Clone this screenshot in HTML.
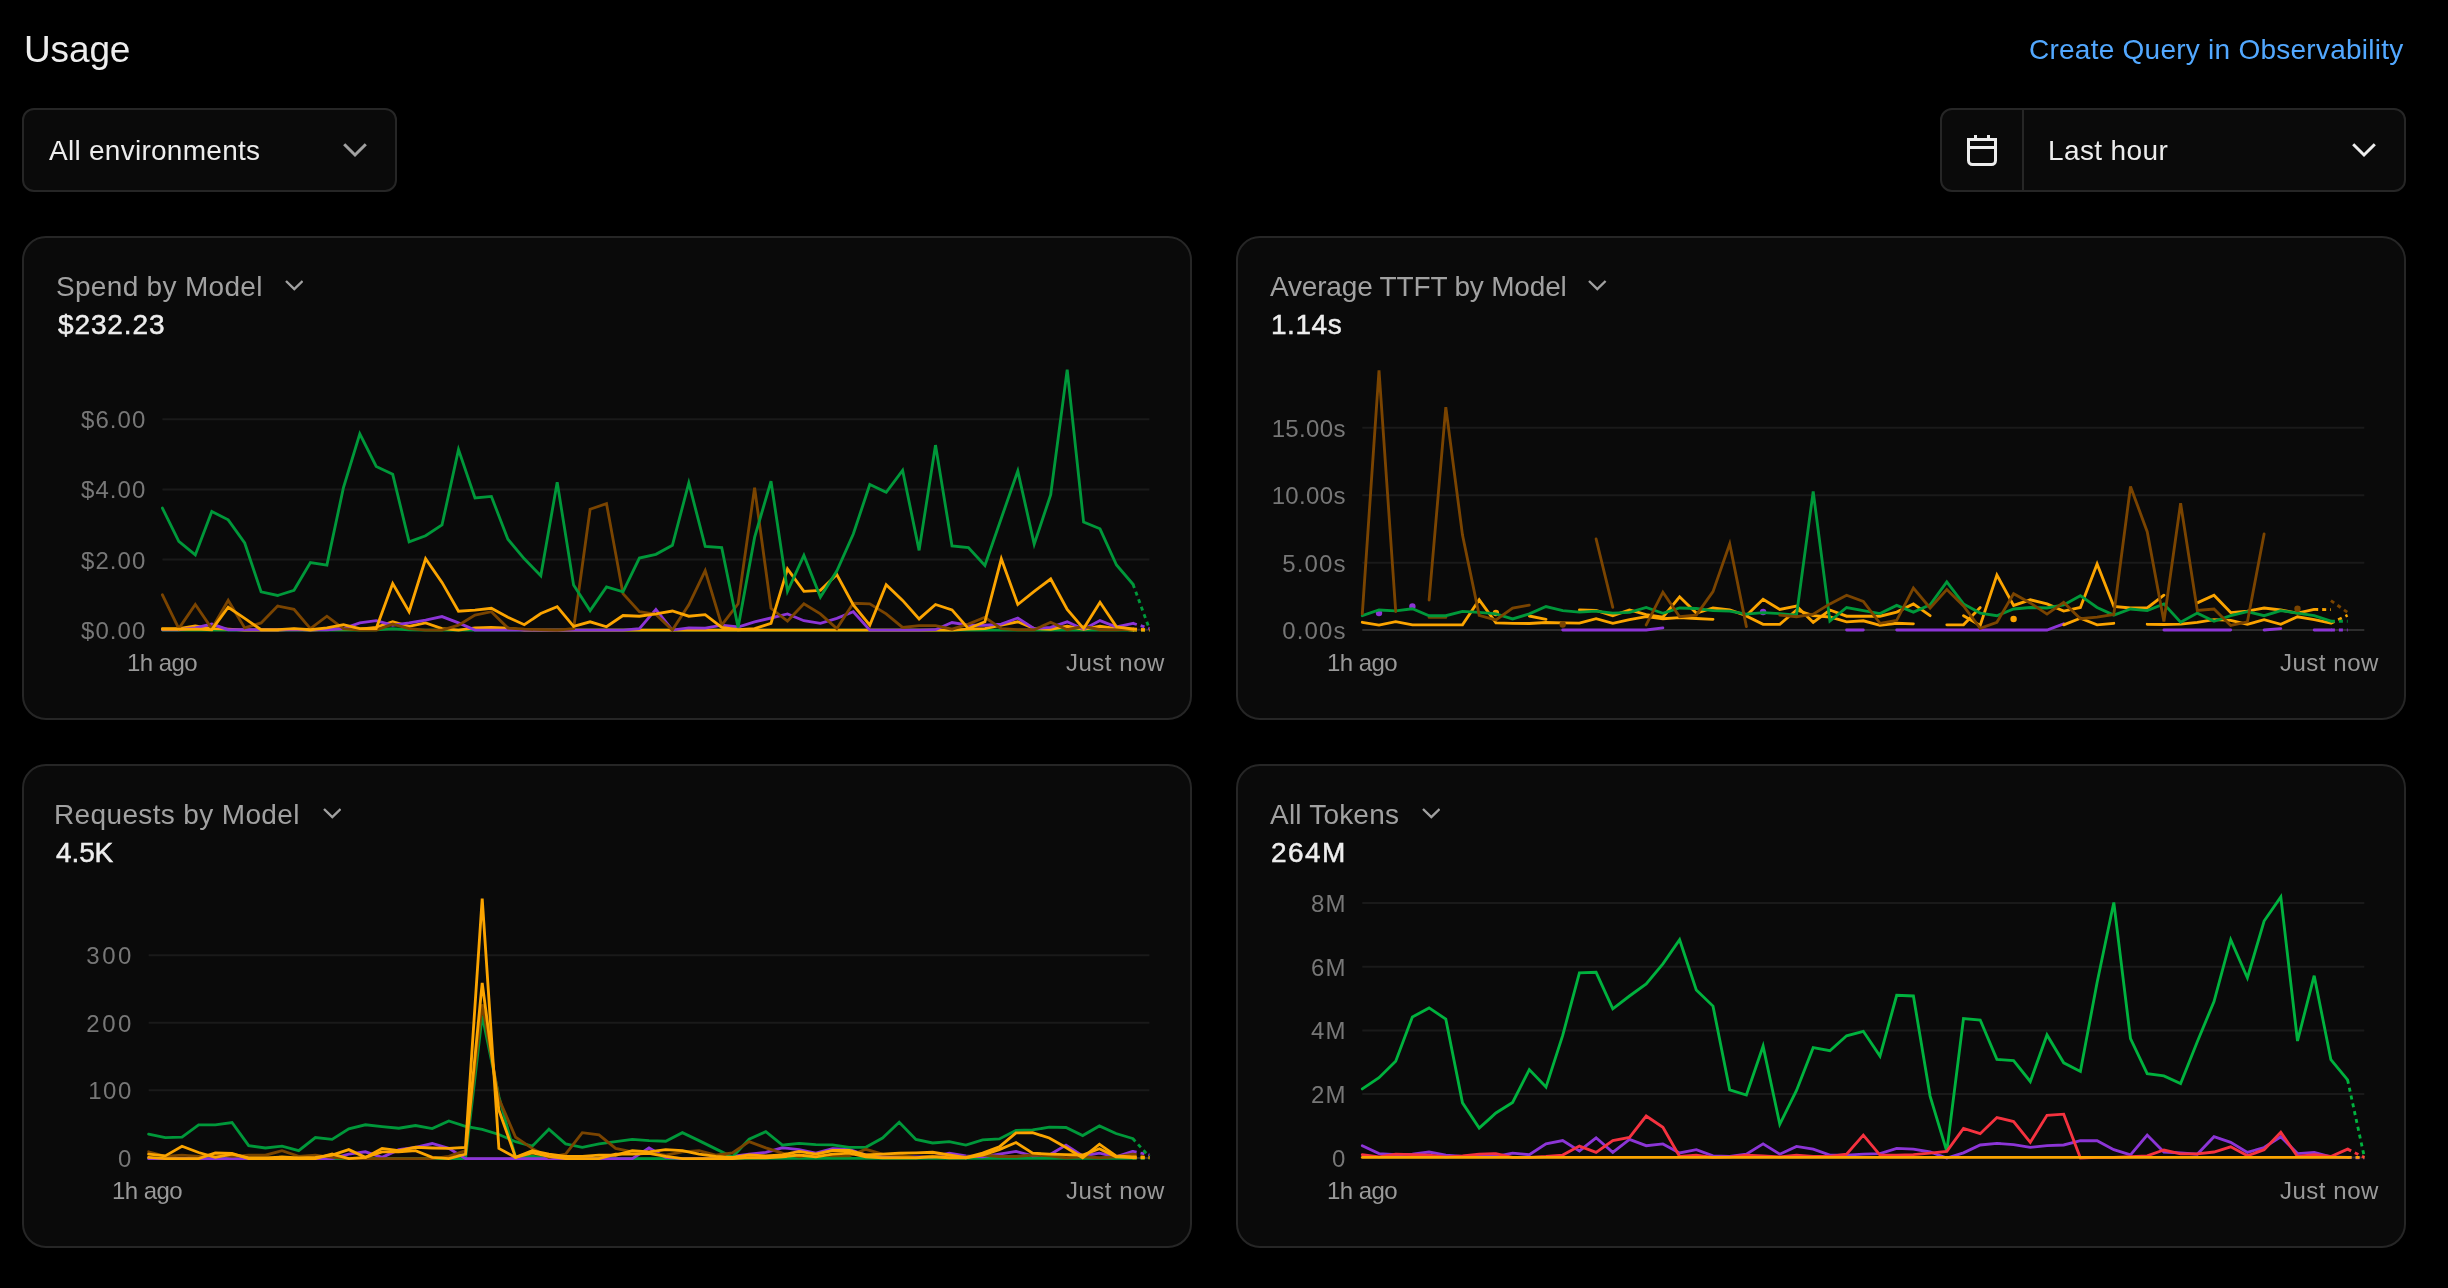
<!DOCTYPE html>
<html lang="en">
<head>
<meta charset="utf-8">
<title>Usage</title>
<style>
*{box-sizing:border-box;margin:0;padding:0}
html,body{background:#000;}
body{width:2448px;height:1288px;position:relative;overflow:hidden;font-family:"Liberation Sans",sans-serif;color:#ededed;-webkit-font-smoothing:antialiased}
h1{position:absolute;left:23.8px;top:27.9px;font-size:37px;line-height:44px;font-weight:400;color:#ededed;letter-spacing:-0.14px;white-space:nowrap}
a.obs{position:absolute;left:2029px;top:33.2px;font-size:28px;line-height:34px;color:#52a8ff;text-decoration:none;white-space:nowrap;letter-spacing:0.25px}
.sel{position:absolute;top:108px;height:84px;border:2px solid #262626;border-radius:12px;background:#0a0a0a;font-size:28px;line-height:34px;white-space:nowrap}
.sel1{left:22px;width:375px}
.sel1 span{position:absolute;left:24.7px;top:24px;letter-spacing:0.27px}
.sel1 svg{position:absolute;left:319px;top:33px}
.sel2{left:1940px;width:466px}
.sel2 .cal{position:absolute;left:0;top:0;width:82px;height:80px;border-right:2px solid #262626}
.sel2 .cal svg{position:absolute;left:24px;top:24px}
.sel2 span{position:absolute;left:105.5px;top:24px;letter-spacing:0.37px}
.sel2 svg.dd{position:absolute;left:410px;top:33px}
.card{position:absolute;width:1170px;height:484px;border:2px solid #262626;border-radius:24px;background:#0a0a0a;overflow:hidden}
.c1{left:22px;top:236px}.c2{left:1236px;top:236px}.c3{left:22px;top:764px}.c4{left:1236px;top:764px}
.card .ttl{position:absolute;left:32px;top:32px;font-size:28px;line-height:34px;color:#a1a1a1;white-space:nowrap;letter-spacing:0.35px}
.card .val{position:absolute;left:33px;top:69.6px;font-size:28px;line-height:34px;color:#ededed;white-space:nowrap;letter-spacing:0.3px;font-weight:400;-webkit-text-stroke:0.5px #ededed}
.card .tchev{position:absolute;top:42.3px}
.chart{position:absolute;left:0;top:0}
h1,a.obs,.sel span,.card .ttl,.card .val,.chart{will-change:transform}
.yl{font-family:"Liberation Sans",sans-serif;font-size:24px;fill:#777;letter-spacing:1.1px}
.xl{font-family:"Liberation Sans",sans-serif;font-size:24px;fill:#999;letter-spacing:0.55px}
.ln path{fill:none;stroke-width:2.85;stroke-linecap:round;stroke-linejoin:miter}
.ln path.dt{stroke-linecap:butt;stroke-dasharray:4 4}
</style>
</head>
<body>
<h1>Usage</h1>
<a class="obs">Create Query in Observability</a>
<div class="sel sel1"><span>All environments</span><svg width="24" height="15" viewBox="0 0 24 15" fill="none"><path d="M1.2 1.2 L12 12 L22.8 1.2" stroke="#a1a1a1" stroke-width="3"/></svg></div>
<div class="sel sel2"><div class="cal"><svg width="32" height="34" viewBox="0 0 32 34" fill="none"><path d="M2.5 5.5 H29.5 V26.5 a4 4 0 0 1 -4 4 H6.5 a4 4 0 0 1 -4 -4 Z M2.5 13.5 H29.5 M9.5 1 V5.5 M22.5 1 V5.5" stroke="#ededed" stroke-width="3"/></svg></div><span>Last hour</span><svg class="dd" width="24" height="15" viewBox="0 0 24 15" fill="none"><path d="M1.2 1.2 L12 12 L22.8 1.2" stroke="#ededed" stroke-width="3"/></svg></div>
<section class="card c1">
<div class="ttl" style="left:31.5px;letter-spacing:0.31px">Spend by Model</div>
<svg class="tchev" style="left:260.7px" width="18.6" height="11" viewBox="0 0 18.6 11" fill="none"><path d="M1 1 L9.3 9 L17.6 1" stroke="#a1a1a1" stroke-width="2.4"/></svg>
<div class="val" style="left:33.8px;letter-spacing:0.88px">$232.23</div>
<svg class="chart" width="1166" height="480" viewBox="24 238 1166 480">
<line x1="162.4" x2="1149.4" y1="419.3" y2="419.3" stroke="#1a1a1a" stroke-width="2"/>
<line x1="162.4" x2="1149.4" y1="489.5" y2="489.5" stroke="#1a1a1a" stroke-width="2"/>
<line x1="162.4" x2="1149.4" y1="559.6" y2="559.6" stroke="#1a1a1a" stroke-width="2"/>
<line x1="162.4" x2="1149.4" y1="629.8" y2="629.8" stroke="#2e2e2e" stroke-width="2"/>
<text x="146.5" y="428.2" text-anchor="end" class="yl">$6.00</text>
<text x="146.5" y="498.4" text-anchor="end" class="yl">$4.00</text>
<text x="146.5" y="568.5" text-anchor="end" class="yl">$2.00</text>
<text x="146.5" y="638.7" text-anchor="end" class="yl">$0.00</text>
<text x="162" y="670.8" text-anchor="middle" class="xl" style="letter-spacing:-0.55px">1h ago</text>
<text x="1165" y="670.8" text-anchor="end" class="xl">Just now</text>
<g class="ln">
<path d="M162.4 630.1L178.8 630.1L195.3 630.1L211.8 630.1L228.2 630.1L244.7 630.1L261.1 630.1L277.6 630.1L294 630.1L310.4 630.1L326.9 630.1L343.4 630.1L359.8 630.1L376.2 629.9L392.7 628.8L409.1 629.9L425.6 630.1L442 630.1L458.5 630.1L475 630.1L491.4 630.1L507.9 630.1L524.3 630.1L540.8 630.1L557.2 630.1L573.6 630.1L590.1 630.1L606.5 630.1L623 630.1L639.4 630.1L655.9 630.1L672.4 630.1L688.8 630.1L705.2 630.1L721.7 630.1L738.1 630.1L754.6 630.1L771 630.1L787.5 630.1L803.9 630.1L820.4 630.1L836.8 630.1L853.3 630.1L869.8 630.1L886.2 630.1L902.6 630.1L919.1 630.1L935.5 630.1L952 630.1L968.4 630.1L984.9 630.1L1001.3 630.1L1017.8 630.1L1034.2 630.1L1050.7 630.1L1067.2 630.1L1083.6 630.1L1100 630.1L1116.5 630.1L1133 630.1" stroke="#00983a"/>
<path class="dt" d="M1133 630.1L1149.4 630.1" stroke="#00983a"/>
<path d="M162.4 628.6L178.8 628.6L195.3 625.9L211.8 628.6L228.2 629.2L244.7 630.1L261.1 630.1L277.6 630.1L294 629.2L310.4 630.1L326.9 629.2L343.4 628.6L359.8 629.2L376.2 627.4L392.7 621.8L409.1 626.3L425.6 622.9L442 628.6L458.5 630.1L475 627.9L491.4 627.4L507.9 628.1L524.3 630.1L540.8 630.1L557.2 630.1L573.6 630.1L590.1 630.1L606.5 630.1L623 630.1L639.4 630.1L655.9 630.1L672.4 630.1L688.8 630.1L705.2 630.1L721.7 630.1L738.1 630.1L754.6 630.1L771 630.1L787.5 630.1L803.9 630.1L820.4 630.1L836.8 630.1L853.3 630.1L869.8 630.1L886.2 630.1L902.6 630.1L919.1 630.1L935.5 630.1L952 630.1L968.4 629.2L984.9 628.6L1001.3 625.2L1017.8 621.8L1034.2 628.6L1050.7 629.2L1067.2 626.3L1083.6 629.2L1100 626.3L1116.5 628.6L1133 630.1" stroke="#fba400"/>
<path class="dt" d="M1133 630.1L1149.4 630.1" stroke="#fba400"/>
<path d="M162.4 629.7L178.8 629.7L195.3 627.9L211.8 624.1L228.2 629.7L244.7 629.7L261.1 629.7L277.6 629.7L294 629.7L310.4 629.7L326.9 629.7L343.4 628.6L359.8 622.9L376.2 620.7L392.7 625.2L409.1 622.9L425.6 620.2L442 616.6L458.5 622.9L475 630.1L491.4 630.1L507.9 630.1L524.3 630.1L540.8 630.1L557.2 630.1L573.6 630.1L590.1 630.1L606.5 630.1L623 630.1L639.4 628.6L655.9 609.4L672.4 630.1L688.8 627.9L705.2 628.1L721.7 625.2L738.1 627L754.6 621.8L771 618L787.5 613.9L803.9 620.7L820.4 623.4L836.8 618.4L853.3 611.7L869.8 630.1L886.2 630.1L902.6 630.1L919.1 630.1L935.5 629.7L952 622.5L968.4 625.2L984.9 625.2L1001.3 624.1L1017.8 618L1034.2 628.6L1050.7 627.4L1067.2 621.8L1083.6 629.2L1100 620.6L1116.5 627L1133 623.3" stroke="#8c35d6"/>
<path class="dt" d="M1133 623.3L1149.4 628.5" stroke="#8c35d6"/>
<path d="M162.4 594.8L178.8 628.6L195.3 604.5L211.8 628.6L228.2 600.4L244.7 627.9L261.1 622.9L277.6 606L294 609.4L310.4 628.6L326.9 616.2L343.4 628.6L359.8 630.1L376.2 630.1L392.7 624.1L409.1 628.6L425.6 630.1L442 630.1L458.5 625.2L475 615.1L491.4 611.7L507.9 628.1L524.3 629.2L540.8 629.7L557.2 630.1L573.6 628.6L590.1 509.2L606.5 503.6L623 593.7L639.4 611.7L655.9 614.4L672.4 630.1L688.8 604.9L705.2 570.7L721.7 625.2L738.1 603.8L754.6 487.8L771 608.3L787.5 621.1L803.9 603.8L820.4 613.9L836.8 628.6L853.3 603.3L869.8 603.8L886.2 613.9L902.6 627.4L919.1 625.6L935.5 625.6L952 629.2L968.4 624.1L984.9 617.3L1001.3 628.6L1017.8 629.7L1034.2 629.7L1050.7 622.3L1067.2 629.7L1083.6 626.3L1100 629.7L1116.5 629.7L1133 629.2" stroke="#7a4400"/>
<path class="dt" d="M1133 629.2L1149.4 629.7" stroke="#7a4400"/>
<path d="M162.4 629.2L178.8 629.2L195.3 629.2L211.8 629.7L228.2 607.2L244.7 618.4L261.1 629.7L277.6 629.7L294 628.6L310.4 629.7L326.9 627.9L343.4 624.7L359.8 628.6L376.2 628.6L392.7 583.5L409.1 611.7L425.6 558.8L442 582.4L458.5 611.2L475 610.1L491.4 608.3L507.9 617.3L524.3 624.7L540.8 613.5L557.2 606.7L573.6 626.3L590.1 621.8L606.5 626.8L623 615.5L639.4 616.2L655.9 613.9L672.4 611L688.8 616.2L705.2 614.6L721.7 627.4L738.1 629.7L754.6 628.6L771 623.4L787.5 568.9L803.9 591.4L820.4 590.3L836.8 574.5L853.3 604.9L869.8 625.2L886.2 584.7L902.6 600.4L919.1 618.9L935.5 604.5L952 609.9L968.4 628.6L984.9 621.8L1001.3 558.8L1017.8 604.5L1034.2 591.4L1050.7 579L1067.2 609.4L1083.6 628.6L1100 602.3L1116.5 626.8L1133 629" stroke="#fba400"/>
<path class="dt" d="M1133 629L1149.4 630" stroke="#fba400"/>
<path d="M162.4 508.1L178.8 541.4L195.3 554.9L211.8 511.5L228.2 519.8L244.7 543L261.1 591.9L277.6 595.5L294 590.3L310.4 562.6L326.9 565.1L343.4 487.8L359.8 433.8L376.2 466.5L392.7 474.3L409.1 541.9L425.6 535.8L442 525L458.5 449.6L475 498L491.4 496.4L507.9 539.2L524.3 558.8L540.8 575.7L557.2 482.2L573.6 585.1L590.1 610.6L606.5 586.9L623 591.9L639.4 558.1L655.9 554.3L672.4 545.3L688.8 482.9L705.2 546.4L721.7 547.5L738.1 627.4L754.6 537.4L771 481.1L787.5 591.4L803.9 555.4L820.4 597L836.8 571.1L853.3 534L869.8 484.5L886.2 492.3L902.6 470.3L919.1 550.4L935.5 445.1L952 545.9L968.4 547.5L984.9 565.5L1001.3 518.2L1017.8 471L1034.2 544.1L1050.7 494.6L1067.2 369.6L1083.6 522.1L1100 528.8L1116.5 565L1133 584.3" stroke="#00983a"/>
<path class="dt" d="M1133 584.3L1149.4 629" stroke="#00983a"/>
</g>
</svg>
</section>
<section class="card c2">
<div class="ttl" style="left:32px;letter-spacing:-0.18px">Average TTFT by Model</div>
<svg class="tchev" style="left:350.3px" width="18.6" height="11" viewBox="0 0 18.6 11" fill="none"><path d="M1 1 L9.3 9 L17.6 1" stroke="#a1a1a1" stroke-width="2.4"/></svg>
<div class="val" style="left:32.8px;letter-spacing:0.54px">1.14s</div>
<svg class="chart" width="1166" height="480" viewBox="1238 238 1166 480">
<line x1="1362.3" x2="2364.3" y1="427.8" y2="427.8" stroke="#1a1a1a" stroke-width="2"/>
<line x1="1362.3" x2="2364.3" y1="495.3" y2="495.3" stroke="#1a1a1a" stroke-width="2"/>
<line x1="1362.3" x2="2364.3" y1="562.7" y2="562.7" stroke="#1a1a1a" stroke-width="2"/>
<line x1="1362.3" x2="2364.3" y1="630" y2="630" stroke="#2e2e2e" stroke-width="2"/>
<text x="1345.8" y="436.7" text-anchor="end" class="yl" style="letter-spacing:0.35px">15.00s</text>
<text x="1345.8" y="504.2" text-anchor="end" class="yl" style="letter-spacing:0.35px">10.00s</text>
<text x="1346.5" y="571.6" text-anchor="end" class="yl">5.00s</text>
<text x="1346.5" y="638.9" text-anchor="end" class="yl">0.00s</text>
<text x="1362" y="670.8" text-anchor="middle" class="xl" style="letter-spacing:-0.55px">1h ago</text>
<text x="2379" y="670.8" text-anchor="end" class="xl">Just now</text>
<g class="ln">
<circle cx="1379" cy="613.1" r="3.2" fill="#8c35d6"/>
<circle cx="1412.4" cy="606.5" r="3.2" fill="#8c35d6"/>
<path d="M1562.7 630L1579.4 630L1596.1 630L1612.8 630L1629.5 630L1646.2 630L1662.9 627.9" stroke="#8c35d6"/>
<circle cx="1763.1" cy="612" r="3.2" fill="#8c35d6"/>
<path d="M1846.6 630L1863.3 630" stroke="#8c35d6"/>
<path d="M1896.7 630L1913.4 630L1930.1 630L1946.8 630L1963.5 630L1980.2 630L1996.9 630L2013.6 630L2030.3 630L2047 630L2063.7 623.8" stroke="#8c35d6"/>
<path d="M2163.9 630L2180.6 630L2197.3 630L2214 630L2230.7 630" stroke="#8c35d6"/>
<path d="M2264.1 630L2280.8 628.6" stroke="#8c35d6"/>
<path d="M2314.2 630L2330.9 630" stroke="#8c35d6"/>
<path class="dt" d="M2330.9 630L2347.6 630" stroke="#8c35d6"/>
<path d="M1429.1 617.4L1445.8 617.4" stroke="#7a4400"/>
<path d="M1362.3 622.3L1379 625.1L1395.7 621.6L1412.4 624.8L1429.1 624.8L1445.8 624.8L1462.5 624.8L1479.2 599.8L1495.9 622.8L1512.6 623.3L1529.3 623.5L1546 622.5L1562.7 622.8L1579.4 623.1L1596.1 618.7L1612.8 623.3L1629.5 619.7L1646.2 616.7L1662.9 618.7L1679.6 617.7L1696.3 618.5L1713 619.3" stroke="#fba400"/>
<path d="M1746.4 616L1763.1 624.3L1779.8 624.3L1796.5 610L1813.2 615.7L1829.9 617L1846.6 621.8L1863.3 620.8L1880 625.4L1896.7 623.3L1913.4 623.8" stroke="#fba400"/>
<path d="M1946.8 624.8L1963.5 624.8L1980.2 607.5" stroke="#fba400"/>
<path d="M2063.7 624.8L2080.4 618.2L2097.1 624.8L2113.8 623.3" stroke="#fba400"/>
<path d="M2147.2 624.3L2163.9 624.5L2180.6 624.1L2197.3 622.3L2214 619.7L2230.7 620.3L2247.4 624.3L2264.1 619.7L2280.8 624.3L2297.5 616.8L2314.2 619.7L2330.9 623.1" stroke="#fba400"/>
<path class="dt" d="M2330.9 623.1L2347.6 615.3" stroke="#fba400"/>
<circle cx="1495.9" cy="613" r="3.2" fill="#fba400"/>
<path d="M1529.3 616L1546 619.4" stroke="#fba400"/>
<path d="M1579.4 610L1596.1 610.3L1612.8 615.7L1629.5 610L1646.2 614.6L1662.9 617.2L1679.6 596.8L1696.3 613.1L1713 608L1729.7 610L1746.4 615.7L1763.1 599.3L1779.8 609.5L1796.5 606L1813.2 622.3L1829.9 610L1846.6 616.2L1863.3 616.2L1880 616.2L1896.7 612.1L1913.4 603.9L1930.1 615.7" stroke="#fba400"/>
<path d="M1963.5 615.7L1980.2 625.4L1996.9 575L2013.6 605.4L2030.3 599.8L2047 603.9L2063.7 611.1L2080.4 607.5L2097.1 564L2113.8 606.5L2130.5 608L2147.2 608L2163.9 595.2" stroke="#fba400"/>
<path d="M2197.3 602.9L2214 595.2L2230.7 612.6L2247.4 611.1L2264.1 608L2280.8 610L2297.5 613.1L2314.2 609.4" stroke="#fba400"/>
<path class="dt" d="M2314.2 609.4L2330.9 609.7" stroke="#fba400"/>
<circle cx="2013.6" cy="619" r="3.2" fill="#fba400"/>
<path d="M1362.3 615.7L1379 610L1395.7 610.9L1412.4 608.8L1429.1 615.7L1445.8 615.7L1462.5 611.4L1479.2 612.4L1495.9 613.8L1512.6 618.9L1529.3 613.9L1546 606.5L1562.7 610.6L1579.4 612.1L1596.1 611.2L1612.8 613.1L1629.5 612.4L1646.2 607.5L1662.9 613.3L1679.6 608L1696.3 608.5L1713 610.6L1729.7 611.1L1746.4 614.1L1763.1 612.6L1779.8 613.6L1796.5 615.2L1813.2 491.5L1829.9 621L1846.6 607.5L1863.3 610.6L1880 613.6L1896.7 605.4L1913.4 612.1L1930.1 604.9L1946.8 582L1963.5 603.9L1980.2 613.1L1996.9 615.7L2013.6 609L2030.3 607.5L2047 608L2063.7 604.9L2080.4 595.7L2097.1 607.5L2113.8 615.1L2130.5 609L2147.2 610.6L2163.9 603.9L2180.6 622.3L2197.3 613.1L2214 621.3L2230.7 615.7L2247.4 611.6L2264.1 615.7L2280.8 610.6L2297.5 613.1L2314.2 615.7L2330.9 621.2" stroke="#00983a"/>
<path class="dt" d="M2330.9 621.2L2347.6 621.2" stroke="#00983a"/>
<path d="M1362.3 613.8L1379 370.3L1395.7 611.5" stroke="#7a4400"/>
<path d="M1429.1 600L1445.8 407.2L1462.5 535.1L1479.2 615.4L1495.9 620L1512.6 608L1529.3 605.2" stroke="#7a4400"/>
<circle cx="1562.7" cy="624.5" r="3.2" fill="#7a4400"/>
<path d="M1596.1 539L1612.8 607.4" stroke="#7a4400"/>
<path d="M1646.2 624.9L1662.9 592.2L1679.6 616.7L1696.3 615.1L1713 591.6L1729.7 543.9L1746.4 626.6" stroke="#7a4400"/>
<path d="M1779.8 615.1L1796.5 616.7L1813.2 614.1L1829.9 603.9L1846.6 595.2L1863.3 601.4L1880 623.3L1896.7 620.3L1913.4 588.1L1930.1 608L1946.8 589.6L1963.5 606L1980.2 628.4L1996.9 622.3L2013.6 593.7L2030.3 602.9L2047 614.1L2063.7 602.4L2080.4 618.7L2097.1 617.2L2113.8 614.4L2130.5 486.5L2147.2 531.7L2163.9 621.5L2180.6 503.2L2197.3 610.5L2214 609L2230.7 625.4L2247.4 621.8L2264.1 534" stroke="#7a4400"/>
<circle cx="2297.5" cy="608.8" r="3.2" fill="#7a4400"/>
<path class="dt" d="M2330.9 600.6L2347.6 612.4" stroke="#7a4400"/>
</g>
</svg>
</section>
<section class="card c3">
<div class="ttl" style="left:30.3px;letter-spacing:0.36px">Requests by Model</div>
<svg class="tchev" style="left:298.6px" width="18.6" height="11" viewBox="0 0 18.6 11" fill="none"><path d="M1 1 L9.3 9 L17.6 1" stroke="#a1a1a1" stroke-width="2.4"/></svg>
<div class="val" style="left:32.3px;letter-spacing:-0.1px">4.5K</div>
<svg class="chart" width="1166" height="480" viewBox="24 766 1166 480">
<line x1="148.6" x2="1149.4" y1="955.2" y2="955.2" stroke="#1a1a1a" stroke-width="2"/>
<line x1="148.6" x2="1149.4" y1="1022.7" y2="1022.7" stroke="#1a1a1a" stroke-width="2"/>
<line x1="148.6" x2="1149.4" y1="1090.3" y2="1090.3" stroke="#1a1a1a" stroke-width="2"/>
<line x1="148.6" x2="1149.4" y1="1158" y2="1158" stroke="#2e2e2e" stroke-width="2"/>
<text x="133.9" y="964.1" text-anchor="end" class="yl" style="letter-spacing:2.5px">300</text>
<text x="133.9" y="1031.6" text-anchor="end" class="yl" style="letter-spacing:2.5px">200</text>
<text x="133" y="1099.2" text-anchor="end" class="yl" style="letter-spacing:1.6px">100</text>
<text x="132.5" y="1166.9" text-anchor="end" class="yl" style="letter-spacing:1.1px">0</text>
<text x="147" y="1198.8" text-anchor="middle" class="xl" style="letter-spacing:-0.55px">1h ago</text>
<text x="1165" y="1198.8" text-anchor="end" class="xl">Just now</text>
<g class="ln">
<path d="M148.6 1158.6L165.3 1158.6L182 1158.6L198.6 1158.6L215.3 1158.6L232 1158.6L248.7 1158.6L265.4 1158.6L282 1158.6L298.7 1158.6L315.4 1158.6L332.1 1158.6L348.8 1158.6L365.4 1158.6L382.1 1158.6L398.8 1158.6L415.5 1158.6L432.2 1158.6L448.8 1158.6L465.5 1158.6L482.2 1015.6L498.9 1096.6L515.6 1157.4L532.2 1156.3L548.9 1158.6L565.6 1158.6L582.3 1158.6L599 1158.6L615.6 1158.6L632.3 1158.6L649 1158.6L665.7 1158.6L682.4 1158.6L699 1158.6L715.7 1158.6L732.4 1158.6L749.1 1158.3L765.8 1158.3L782.4 1158.3L799.1 1158.3L815.8 1158.3L832.5 1158.3L849.2 1158.3L865.8 1158.3L882.5 1158.3L899.2 1158.3L915.9 1158.3L932.6 1158.3L949.2 1158.3L965.9 1158.3L982.6 1158.3L999.3 1158.3L1016 1158.3L1032.6 1158.3L1049.3 1158.3L1066 1158.3L1082.7 1158.3L1099.4 1158.3L1116 1158.3L1132.7 1158.3" stroke="#00983a"/>
<path class="dt" d="M1132.7 1158.3L1149.4 1158.3" stroke="#00983a"/>
<path d="M148.6 1158.6L165.3 1158.6L182 1158.6L198.6 1158.6L215.3 1158.6L232 1158.6L248.7 1158.6L265.4 1158.6L282 1158.6L298.7 1158.6L315.4 1158.6L332.1 1158.6L348.8 1154.1L365.4 1151.8L382.1 1157.4L398.8 1149.6L415.5 1147.3L432.2 1143.5L448.8 1148.4L465.5 1158.6L482.2 1158.6L498.9 1158.6L515.6 1158.6L532.2 1158.6L548.9 1158.6L565.6 1158.6L582.3 1158.6L599 1158.6L615.6 1158.6L632.3 1158.6L649 1148L665.7 1157.4L682.4 1158.6L699 1158.6L715.7 1158.6L732.4 1156.3L749.1 1154.1L765.8 1152.3L782.4 1147.8L799.1 1149.6L815.8 1153.2L832.5 1148.7L849.2 1149.3L865.8 1155L882.5 1156.8L899.2 1156.8L915.9 1156.8L932.6 1156.8L949.2 1153.2L965.9 1155.9L982.6 1156.8L999.3 1154.1L1016 1151.4L1032.6 1155.9L1049.3 1155L1066 1145.1L1082.7 1155.9L1099.4 1153.2L1116 1156.8L1132.7 1151.4" stroke="#8c35d6"/>
<path class="dt" d="M1132.7 1151.4L1149.4 1155" stroke="#8c35d6"/>
<path d="M148.6 1134.2L165.3 1137.6L182 1137.2L198.6 1124.8L215.3 1124.8L232 1122.5L248.7 1145.7L265.4 1148L282 1146.2L298.7 1150.7L315.4 1137.6L332.1 1139.4L348.8 1128.8L365.4 1124.8L382.1 1126.6L398.8 1128.2L415.5 1125.5L432.2 1128.6L448.8 1121L465.5 1126.4L482.2 1129.3L498.9 1134.5L515.6 1141.7L532.2 1146.2L548.9 1129.3L565.6 1143.9L582.3 1147.3L599 1143.9L615.6 1141.7L632.3 1139.4L649 1140.6L665.7 1141.2L682.4 1132.7L699 1140.6L715.7 1148.9L732.4 1157L749.1 1139.2L765.8 1131.7L782.4 1145.1L799.1 1143.4L815.8 1144.6L832.5 1144.8L849.2 1147.3L865.8 1147.3L882.5 1138L899.2 1122.3L915.9 1139.4L932.6 1143L949.2 1141.6L965.9 1145.1L982.6 1139.8L999.3 1138.9L1016 1130.4L1032.6 1129.9L1049.3 1127.2L1066 1127.5L1082.7 1135.6L1099.4 1125.9L1116 1133.5L1132.7 1138.5" stroke="#00983a"/>
<path class="dt" d="M1132.7 1138.5L1149.4 1156.8" stroke="#00983a"/>
<path d="M148.6 1151.8L165.3 1156.3L182 1155.2L198.6 1156.3L215.3 1154.1L232 1156.3L248.7 1155.2L265.4 1155.2L282 1150.7L298.7 1156.3L315.4 1155.2L332.1 1157.4L348.8 1158.6L365.4 1158.6L382.1 1158.6L398.8 1158.6L415.5 1158.6L432.2 1158.6L448.8 1156.3L465.5 1150.7L482.2 1004.3L498.9 1098.9L515.6 1137.2L532.2 1148.4L548.9 1157.4L565.6 1154.1L582.3 1132.7L599 1134.9L615.6 1148.4L632.3 1151.8L649 1152.9L665.7 1155.2L682.4 1151.8L699 1150.7L715.7 1155.2L732.4 1152.9L749.1 1141.6L765.8 1147.8L782.4 1153.2L799.1 1156.8L815.8 1154.1L832.5 1155.9L849.2 1155.9L865.8 1149.3L882.5 1154.1L899.2 1155L915.9 1157.7L932.6 1155.9L949.2 1157.7L965.9 1156.8L982.6 1155L999.3 1156.5L1016 1156.5L1032.6 1155L1049.3 1155.9L1066 1157.7L1082.7 1156.8L1099.4 1157.7L1116 1156.8L1132.7 1154.1" stroke="#7a4400"/>
<path class="dt" d="M1132.7 1154.1L1149.4 1157.7" stroke="#7a4400"/>
<path d="M148.6 1157.4L165.3 1158.6L182 1158.6L198.6 1158.6L215.3 1152.9L232 1153.4L248.7 1158.6L265.4 1158.6L282 1158.6L298.7 1158.6L315.4 1158.6L332.1 1154.1L348.8 1158.6L365.4 1157.4L382.1 1151.8L398.8 1151.8L415.5 1150.7L432.2 1157.4L448.8 1158.6L465.5 1154.1L482.2 982.9L498.9 1110.2L515.6 1157.4L532.2 1152.9L548.9 1156.3L565.6 1158.6L582.3 1158.6L599 1158.6L615.6 1154.1L632.3 1154.1L649 1153.4L665.7 1156.3L682.4 1158.6L699 1158.6L715.7 1158.6L732.4 1158.6L749.1 1157.7L765.8 1157.7L782.4 1156.8L799.1 1155L815.8 1156.8L832.5 1154.1L849.2 1153.2L865.8 1156.8L882.5 1157.7L899.2 1157.7L915.9 1157.7L932.6 1156.8L949.2 1157.7L965.9 1157.7L982.6 1155L999.3 1149.6L1016 1142.5L1032.6 1153.2L1049.3 1154.1L1066 1154.7L1082.7 1155L1099.4 1148.7L1116 1156.8L1132.7 1157.7" stroke="#fba400"/>
<path class="dt" d="M1132.7 1157.7L1149.4 1157.7" stroke="#fba400"/>
<path d="M148.6 1154.1L165.3 1155.9L182 1146.2L198.6 1152.5L215.3 1157.4L232 1154.1L248.7 1157.9L265.4 1157.9L282 1157L298.7 1157.9L315.4 1157.4L332.1 1155.2L348.8 1149.6L365.4 1157.4L382.1 1148.4L398.8 1150.7L415.5 1147.3L432.2 1148L448.8 1148.4L465.5 1147.3L482.2 898.5L498.9 1148.4L515.6 1157.4L532.2 1150.7L548.9 1154.1L565.6 1156.3L582.3 1156.3L599 1155.2L615.6 1155.2L632.3 1150.7L649 1151.8L665.7 1149.6L682.4 1150.7L699 1154.1L715.7 1156.3L732.4 1157.4L749.1 1155L765.8 1155.9L782.4 1155L799.1 1151.4L815.8 1154.1L832.5 1150.5L849.2 1150.5L865.8 1155L882.5 1154.1L899.2 1153.2L915.9 1152.9L932.6 1152.3L949.2 1155L965.9 1157.7L982.6 1153.2L999.3 1146.9L1016 1132.9L1032.6 1132.6L1049.3 1138L1066 1147.5L1082.7 1157.7L1099.4 1144.2L1116 1155.9L1132.7 1156.8" stroke="#fba400"/>
<path class="dt" d="M1132.7 1156.8L1149.4 1157.7" stroke="#fba400"/>
</g>
</svg>
</section>
<section class="card c4">
<div class="ttl" style="left:32px;letter-spacing:0.2px">All Tokens</div>
<svg class="tchev" style="left:183.9px" width="18.6" height="11" viewBox="0 0 18.6 11" fill="none"><path d="M1 1 L9.3 9 L17.6 1" stroke="#a1a1a1" stroke-width="2.4"/></svg>
<div class="val" style="left:32.6px;letter-spacing:1.4px">264M</div>
<svg class="chart" width="1166" height="480" viewBox="1238 766 1166 480">
<line x1="1362.3" x2="2364.3" y1="903" y2="903" stroke="#1a1a1a" stroke-width="2"/>
<line x1="1362.3" x2="2364.3" y1="966.7" y2="966.7" stroke="#1a1a1a" stroke-width="2"/>
<line x1="1362.3" x2="2364.3" y1="1030.4" y2="1030.4" stroke="#1a1a1a" stroke-width="2"/>
<line x1="1362.3" x2="2364.3" y1="1094" y2="1094" stroke="#1a1a1a" stroke-width="2"/>
<line x1="1362.3" x2="2364.3" y1="1157.6" y2="1157.6" stroke="#2e2e2e" stroke-width="2"/>
<text x="1346.5" y="911.9" text-anchor="end" class="yl">8M</text>
<text x="1346.5" y="975.6" text-anchor="end" class="yl">6M</text>
<text x="1346.5" y="1039.3" text-anchor="end" class="yl">4M</text>
<text x="1346.5" y="1102.9" text-anchor="end" class="yl">2M</text>
<text x="1346.5" y="1166.5" text-anchor="end" class="yl" style="letter-spacing:1.1px">0</text>
<text x="1362" y="1198.8" text-anchor="middle" class="xl" style="letter-spacing:-0.55px">1h ago</text>
<text x="2379" y="1198.8" text-anchor="end" class="xl">Just now</text>
<g class="ln">
<path d="M1362.3 1088.9L1379 1077.7L1395.7 1061.2L1412.4 1016.9L1429.1 1007.9L1445.8 1019.1L1462.5 1102.9L1479.2 1128.1L1495.9 1113L1512.6 1102.5L1529.3 1069.6L1546 1087.1L1562.7 1035.4L1579.4 972.8L1596.1 972.3L1612.8 1008.8L1629.5 996L1646.2 984L1662.9 963.8L1679.6 939.7L1696.3 989.9L1713 1006.1L1729.7 1089.8L1746.4 1095L1763.1 1046.2L1779.8 1124.3L1796.5 1090.5L1813.2 1047.7L1829.9 1050.7L1846.6 1035.8L1863.3 1031.3L1880 1056.1L1896.7 995.3L1913.4 996L1930.1 1096.1L1946.8 1151.3L1963.5 1018.5L1980.2 1020L1996.9 1059.4L2013.6 1060.6L2030.3 1081.5L2047 1034.9L2063.7 1062.8L2080.4 1071.4L2097.1 982.4L2113.8 902.5L2130.5 1038.7L2147.2 1073.6L2163.9 1075.9L2180.6 1083.5L2197.3 1041.7L2214 1001.6L2230.7 939.7L2247.4 977.9L2264.1 921L2280.8 896.9L2297.5 1041L2314.2 975.7L2330.9 1059.7L2347.6 1079.9" stroke="#00b23e"/>
<path class="dt" d="M2347.6 1079.9L2364.3 1156.9" stroke="#00b23e"/>
<path d="M1362.3 1145.7L1379 1153.6L1395.7 1154.7L1412.4 1154.2L1429.1 1152L1445.8 1155.1L1462.5 1156.5L1479.2 1155.8L1495.9 1156.5L1512.6 1153.1L1529.3 1154.7L1546 1143.9L1562.7 1140.5L1579.4 1150.9L1596.1 1137.8L1612.8 1152.4L1629.5 1139.4L1646.2 1145.7L1662.9 1143.9L1679.6 1152.9L1696.3 1149.7L1713 1155.8L1729.7 1156.5L1746.4 1154.2L1763.1 1143.9L1779.8 1154.2L1796.5 1146.4L1813.2 1149.1L1829.9 1155.1L1846.6 1155.1L1863.3 1154.2L1880 1153.6L1896.7 1148.4L1913.4 1149.1L1930.1 1152L1946.8 1158.1L1963.5 1152.9L1980.2 1145L1996.9 1143.4L2013.6 1144.6L2030.3 1147.3L2047 1145.7L2063.7 1145L2080.4 1140.7L2097.1 1140.7L2113.8 1149.7L2130.5 1154.9L2147.2 1135.1L2163.9 1152L2180.6 1152.9L2197.3 1154.2L2214 1136.7L2230.7 1142.3L2247.4 1152.4L2264.1 1147.5L2280.8 1136.7L2297.5 1153.6L2314.2 1152.4L2330.9 1156.9L2347.6 1157.4" stroke="#8c35d6"/>
<path class="dt" d="M2347.6 1157.4L2364.3 1158.1" stroke="#8c35d6"/>
<path d="M1362.3 1154.7L1379 1156.9L1395.7 1154.2L1412.4 1154.7L1429.1 1155.1L1445.8 1156.9L1462.5 1155.8L1479.2 1154.2L1495.9 1153.6L1512.6 1157.4L1529.3 1157.4L1546 1156.5L1562.7 1155.1L1579.4 1146.1L1596.1 1152.4L1612.8 1140.7L1629.5 1137.4L1646.2 1116L1662.9 1127.2L1679.6 1156.5L1696.3 1155.1L1713 1157.4L1729.7 1156.9L1746.4 1155.1L1763.1 1155.8L1779.8 1156.9L1796.5 1155.1L1813.2 1156.5L1829.9 1156.5L1846.6 1154.2L1863.3 1135.1L1880 1155.1L1896.7 1155.1L1913.4 1154.7L1930.1 1153.1L1946.8 1151.3L1963.5 1128.3L1980.2 1133.7L1996.9 1117.5L2013.6 1121.6L2030.3 1142.3L2047 1115.3L2063.7 1114.2L2080.4 1158.1L2097.1 1157.4L2113.8 1157.4L2130.5 1156.7L2147.2 1155.8L2163.9 1150L2180.6 1153.8L2197.3 1153.8L2214 1152L2230.7 1146.8L2247.4 1155.8L2264.1 1149.7L2280.8 1132.2L2297.5 1156.5L2314.2 1154.7L2330.9 1156.5L2347.6 1149.1" stroke="#f5323f"/>
<path class="dt" d="M2347.6 1149.1L2364.3 1157.4" stroke="#f5323f"/>
<path d="M1362.3 1157.4L1379 1157.4L1395.7 1157.4L1412.4 1157.4L1429.1 1157.4L1445.8 1157.4L1462.5 1157.4L1479.2 1157.4L1495.9 1157.4L1512.6 1157.4L1529.3 1157.4L1546 1157.4L1562.7 1157.4L1579.4 1157.4L1596.1 1157.4L1612.8 1157.4L1629.5 1157.4L1646.2 1157.4L1662.9 1157.4L1679.6 1157.4L1696.3 1157.4L1713 1157.4L1729.7 1157.4L1746.4 1157.4L1763.1 1157.4L1779.8 1157.4L1796.5 1157.4L1813.2 1157.4L1829.9 1157.4L1846.6 1157.4L1863.3 1157.4L1880 1157.4L1896.7 1157.4L1913.4 1157.4L1930.1 1157.4L1946.8 1157.4L1963.5 1157.4L1980.2 1157.4L1996.9 1157.4L2013.6 1157.4L2030.3 1157.4L2047 1157.4L2063.7 1157.4L2080.4 1157.4L2097.1 1157.4L2113.8 1157.4L2130.5 1157.4L2147.2 1157.4L2163.9 1157.4L2180.6 1157.4L2197.3 1157.4L2214 1157.4L2230.7 1157.4L2247.4 1157.4L2264.1 1157.4L2280.8 1157.4L2297.5 1157.4L2314.2 1157.4L2330.9 1157.4L2347.6 1157.4" stroke="#fba400"/>
<path class="dt" d="M2347.6 1157.4L2364.3 1157.4" stroke="#fba400"/>
</g>
</svg>
</section>
</body>
</html>
